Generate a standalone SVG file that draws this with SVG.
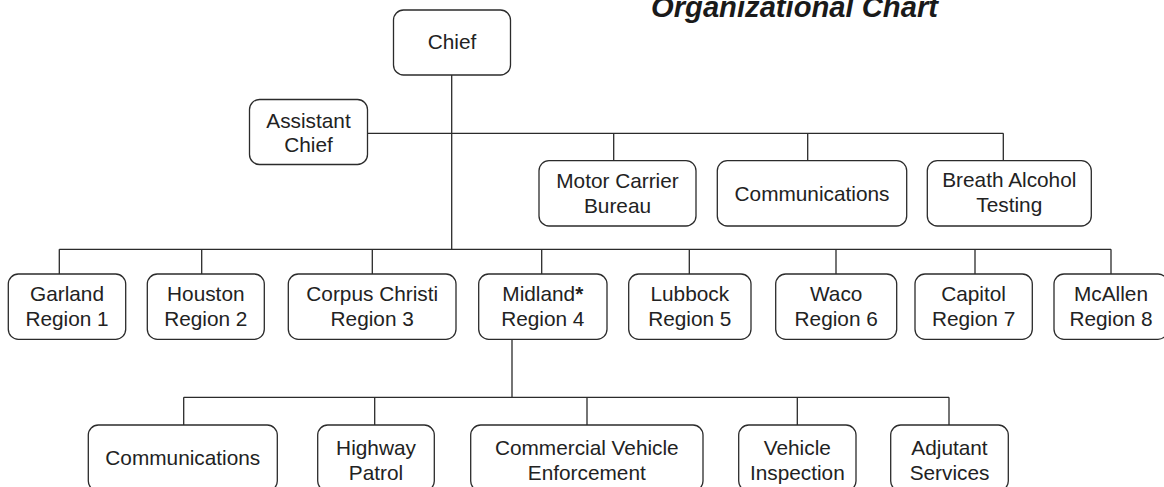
<svg xmlns="http://www.w3.org/2000/svg" width="1164" height="487" viewBox="0 0 1164 487">
<style>
.bg{fill:#ffffff}
.box{fill:#ffffff;stroke:#2b2b2b;stroke-width:1.3}
.ln{fill:none;stroke:#2b2b2b;stroke-width:1.3}
.t{font-family:"Liberation Sans",Arial,sans-serif;font-size:20.8px;fill:#222222;text-anchor:middle}
.title{font-family:"Liberation Sans",Arial,sans-serif;font-size:29px;font-weight:bold;font-style:italic;fill:#1a1a1a}
</style>
<rect class="bg" x="0" y="0" width="1164" height="487"/>
<text class="title" x="651" y="17" textLength="287" lengthAdjust="spacingAndGlyphs">Organizational Chart</text>
<g id="connectors">
<path class="ln" d="M451.7 75V249.3M367.3 133.3H1003.3M613.7 133.3V160.7M807.7 133.3V160.7M1003.3 133.3V160.7"/>
<path class="ln" d="M59.3 249.3H1111M59.3 249.3V274M201.7 249.3V274M372.3 249.3V274M541.7 249.3V274M689.3 249.3V274M836 249.3V274M975 249.3V274M1111 249.3V274"/>
<path class="ln" d="M512 339.3V397.3M183.7 397.3H949M183.7 397.3V425M374.7 397.3V425M587 397.3V425M797.3 397.3V425M949 397.3V425"/>
</g>
<g id="chief"><rect class="box" x="393.5" y="10" width="117" height="65" rx="10"/><text class="t" x="452" y="49.3">Chief</text></g>
<g id="assistant-chief"><rect class="box" x="249.5" y="99.5" width="118" height="65" rx="10"/><text class="t" x="308.5" y="128.3">Assistant</text><text class="t" x="308.5" y="151.7">Chief</text></g>
<g id="motor-carrier"><rect class="box" x="539" y="160.7" width="157" height="65.3" rx="10"/><text class="t" x="617.5" y="188.3">Motor Carrier</text><text class="t" x="617.5" y="213">Bureau</text></g>
<g id="communications-top"><rect class="box" x="717.3" y="160.7" width="189.4" height="65.3" rx="10"/><text class="t" x="812" y="200.5">Communications</text></g>
<g id="breath-alcohol"><rect class="box" x="927.3" y="160.7" width="164" height="65.3" rx="10"/><text class="t" x="1009.3" y="187.3">Breath Alcohol</text><text class="t" x="1009.3" y="212">Testing</text></g>
<g id="region1"><rect class="box" x="8.3" y="274" width="117.4" height="65.3" rx="10"/><text class="t" x="67" y="301">Garland</text><text class="t" x="67" y="326">Region 1</text></g>
<g id="region2"><rect class="box" x="147.3" y="274" width="117" height="65.3" rx="10"/><text class="t" x="205.8" y="301">Houston</text><text class="t" x="205.8" y="326">Region 2</text></g>
<g id="region3"><rect class="box" x="288.3" y="274" width="167.7" height="65.3" rx="10"/><text class="t" x="372.2" y="301">Corpus Christi</text><text class="t" x="372.2" y="326">Region 3</text></g>
<g id="region4"><rect class="box" x="478.7" y="274" width="128.3" height="65.3" rx="10"/><text class="t" x="542.8" y="301">Midland<tspan font-weight="bold">*</tspan></text><text class="t" x="542.8" y="326">Region 4</text></g>
<g id="region5"><rect class="box" x="628.7" y="274" width="122.3" height="65.3" rx="10"/><text class="t" x="689.8" y="301">Lubbock</text><text class="t" x="689.8" y="326">Region 5</text></g>
<g id="region6"><rect class="box" x="775.7" y="274" width="121" height="65.3" rx="10"/><text class="t" x="836.2" y="301">Waco</text><text class="t" x="836.2" y="326">Region 6</text></g>
<g id="region7"><rect class="box" x="915" y="274" width="117.3" height="65.3" rx="10"/><text class="t" x="973.6" y="301">Capitol</text><text class="t" x="973.6" y="326">Region 7</text></g>
<g id="region8"><rect class="box" x="1054" y="274" width="114" height="65.3" rx="10"/><text class="t" x="1111" y="301">McAllen</text><text class="t" x="1111" y="326">Region 8</text></g>
<g id="communications-low"><rect class="box" x="88.3" y="425" width="189" height="66" rx="10"/><text class="t" x="182.8" y="465">Communications</text></g>
<g id="highway-patrol"><rect class="box" x="317.7" y="425" width="116.6" height="66" rx="10"/><text class="t" x="376" y="455">Highway</text><text class="t" x="376" y="480">Patrol</text></g>
<g id="cve"><rect class="box" x="470.7" y="425" width="232.3" height="66" rx="10"/><text class="t" x="586.8" y="455">Commercial Vehicle</text><text class="t" x="586.8" y="480">Enforcement</text></g>
<g id="vehicle-inspection"><rect class="box" x="738.7" y="425" width="117.3" height="66" rx="10"/><text class="t" x="797.3" y="455">Vehicle</text><text class="t" x="797.3" y="480">Inspection</text></g>
<g id="adjutant"><rect class="box" x="890.7" y="425" width="117.6" height="66" rx="10"/><text class="t" x="949.5" y="455">Adjutant</text><text class="t" x="949.5" y="480">Services</text></g>
</svg>
